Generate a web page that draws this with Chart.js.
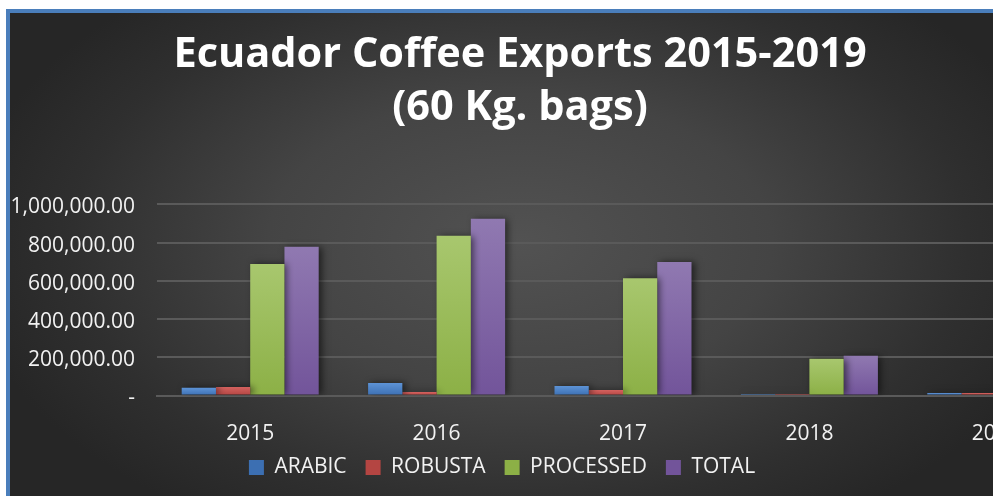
<!DOCTYPE html>
<html>
<head>
<meta charset="utf-8">
<script src="https://cdn.jsdelivr.net/npm/chart.js@4/dist/chart.umd.min.js"></script>
<style>
  html, body { margin: 0; padding: 0; width: 993px; height: 496px; overflow: hidden; background: #ffffff; }
  #frame {
    position: absolute; left: 6px; top: 9px; width: 1104px; height: 487px;
    border-top: 4px solid #4a7ebb; border-left: 4px solid #4a7ebb; box-sizing: border-box;
    background: radial-gradient(ellipse 560px 330px at 510px 230px, #525252 0%, #444444 45%, #2f2f2f 80%, #262626 100%);
  }
  #c { position: absolute; left: 10px; top: 13px; }
</style>
</head>
<body>
<div id="frame"></div>
<canvas id="c" width="1100" height="483"></canvas>
<script>
const years = ['2015', '2016', '2017', '2018', '2019'];
const arabic = [40000, 66000, 50000, 8000, 13000];
const robusta = [45000, 18000, 29000, 8000, 13000];
const processed = [688000, 836000, 614000, 192000, 180000];
const total = [778000, 925000, 698000, 208000, 206000];
const seriesNames = ['ARABIC', 'ROBUSTA', 'PROCESSED', 'TOTAL'];
const titleLines = ['Ecuador Coffee Exports 2015-2019', '(60 Kg. bags)'];

const palette = [
  { base: '#4f81bd', top: '#5d93d6', bottom: '#3c6fb2' },
  { base: '#c0504d', top: '#d4625f', bottom: '#b44542' },
  { base: '#9bbb59', top: '#a8c76e', bottom: '#8cb046' },
  { base: '#8064a2', top: '#9079b1', bottom: '#72549a' }
];

function barFill(i) {
  return function (ctx) {
    const chart = ctx.chart;
    const area = chart.chartArea;
    if (!area || ctx.type !== 'data' || ctx.raw == null) return palette[i].base;
    const y = chart.scales.y.getPixelForValue(ctx.raw);
    const g = chart.ctx.createLinearGradient(0, y, 0, area.bottom);
    g.addColorStop(0, palette[i].top);
    g.addColorStop(1, palette[i].bottom);
    return g;
  };
}

const fontFamily = "'Open Sans', 'Noto Sans', sans-serif";

const shiftPlugin = {
  id: 'shiftBoxes',
  afterLayout(chart) {
    const t = chart.titleBlock;
    if (t) { t.left = 0; t.right = 1020; }
    const l = chart.legend;
    if (l) { l.left = 0; l.right = 984; }
    const x = chart.scales.x;
    if (x) { x.bottom = chart.height; }
  }
};

const shadowPlugin = {
  id: 'barShadow',
  beforeDatasetsDraw(chart) {
    const c = chart.ctx;
    c.save();
    c.shadowColor = 'rgba(0,0,0,0.55)';
    c.shadowBlur = 7;
    c.shadowOffsetX = 3;
    c.shadowOffsetY = 0;
  },
  afterDatasetsDraw(chart) {
    chart.ctx.restore();
  }
};

const dataLists = [arabic, robusta, processed, total];

new Chart(document.getElementById('c'), {
  type: 'bar',
  data: {
    labels: years,
    datasets: seriesNames.map((name, i) => ({
      label: name,
      data: dataLists[i],
      backgroundColor: barFill(i),
      borderWidth: 0,
      categoryPercentage: 0.735,
      barPercentage: 1.0
    }))
  },
  plugins: [shiftPlugin, shadowPlugin],
  options: {
    responsive: false,
    animation: false,
    layout: { padding: { left: 0, right: 21, top: 0, bottom: 8 } },
    plugins: {
      tooltip: { enabled: false },
      title: {
        display: true,
        text: titleLines,
        color: '#ffffff',
        font: { family: fontFamily, size: 41.5, weight: 'bold', lineHeight: 1.27 },
        padding: { top: 16, bottom: 70 }
      },
      legend: {
        position: 'bottom',
        labels: {
          color: '#f2f2f2',
          font: { family: fontFamily, size: 21 },
          boxWidth: 15,
          boxHeight: 15,
          padding: 19
        }
      }
    },
    scales: {
      x: {
        grid: { display: false, drawTicks: false },
        border: { display: true, color: '#5a5a5a', width: 2 },
        ticks: { color: '#f2f2f2', font: { family: fontFamily, size: 21 }, padding: 26, maxRotation: 0, autoSkip: false },
        afterFit(scale) { scale.height = 42.5; }
      },
      y: {
        min: 0,
        max: 1000000,
        grid: { color: '#5a5a5a', lineWidth: 2, drawTicks: false },
        border: { display: false },
        ticks: {
          stepSize: 200000,
          color: '#f2f2f2',
          font: { family: fontFamily, size: 21 },
          padding: 22,
          labelOffset: 3,
          callback(v) {
            return v === 0 ? '-' : Number(v).toLocaleString('en-US', { minimumFractionDigits: 2, maximumFractionDigits: 2 });
          }
        },
        afterFit(scale) { scale.width = 147; }
      }
    }
  }
});
</script>
</body>
</html>
